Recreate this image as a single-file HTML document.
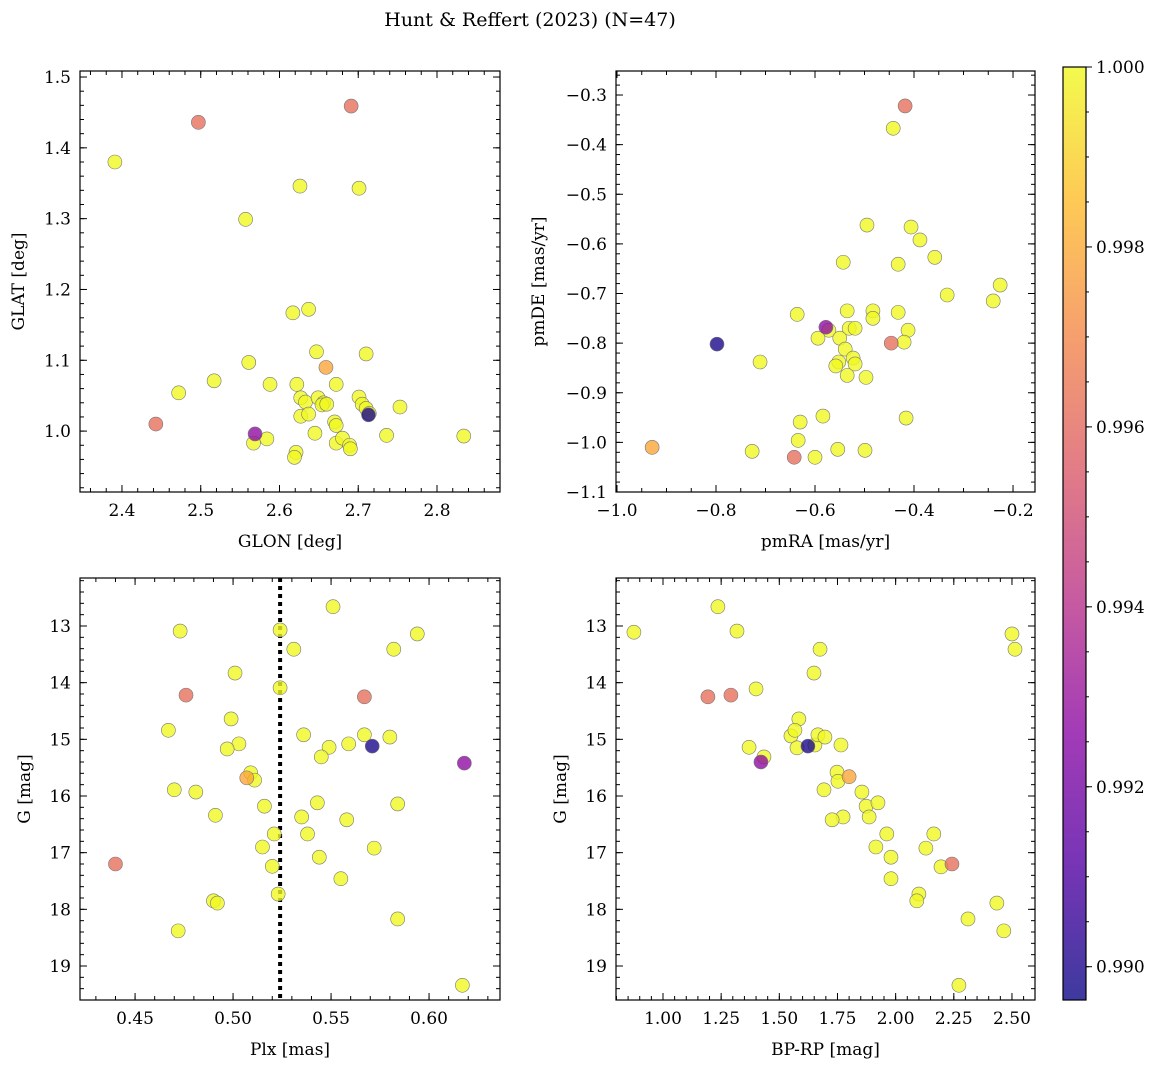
<!DOCTYPE html>
<html><head><meta charset="utf-8">
<style>
body{margin:0;background:#fff;}
svg{display:block;font-family:"DejaVu Serif","Liberation Serif",serif;}
</style></head>
<body>
<svg id="fig" width="1161" height="1067" viewBox="0 0 1161 1067">
<text x="530" y="26" font-size="19" text-anchor="middle">Hunt &amp; Reffert (2023) (N=47)</text>
</svg>
<script>
// ---- data ----
const probLevels = [1.0, 0.9962, 0.9979, 0.9927, 0.9899];
const p1Glon = [2.391,2.497,2.691,2.443,2.472,2.517,2.557,2.626,2.701,2.617,2.637,2.561,2.588,2.622,2.647,2.659,2.710,2.627,2.633,2.649,2.627,2.637,2.656,2.654,2.660,2.672,2.701,2.705,2.710,2.714,2.713,2.753,2.645,2.670,2.672,2.672,2.680,2.689,2.690,2.736,2.834,2.569,2.567,2.584,2.621,2.619];
const p1Glat = [1.380,1.436,1.459,1.010,1.054,1.071,1.299,1.346,1.343,1.167,1.172,1.097,1.066,1.066,1.112,1.090,1.109,1.047,1.041,1.047,1.021,1.024,1.040,1.037,1.038,1.066,1.048,1.038,1.032,1.025,1.023,1.034,0.997,1.013,1.008,0.983,0.990,0.980,0.975,0.994,0.993,0.996,0.983,0.989,0.970,0.963];
const p1Prob = [1,0.9962,0.9962,0.9962,1,1,1,1,1,1,1,1,1,1,1,0.9979,1,1,1,1,1,1,1,1,1,1,1,1,1,1,0.9899,1,1,1,1,1,1,1,1,1,1,0.9927,1,1,1,1];
const p2PmRA = [-0.418,-0.442,-0.495,-0.406,-0.388,-0.358,-0.432,-0.543,-0.333,-0.226,-0.240,-0.636,-0.535,-0.483,-0.483,-0.432,-0.578,-0.572,-0.531,-0.519,-0.412,-0.420,-0.446,-0.798,-0.594,-0.550,-0.539,-0.523,-0.519,-0.552,-0.558,-0.535,-0.497,-0.711,-0.584,-0.416,-0.630,-0.634,-0.929,-0.727,-0.554,-0.499,-0.600,-0.642];
const p2PmDE = [-0.322,-0.367,-0.562,-0.566,-0.592,-0.627,-0.641,-0.637,-0.703,-0.683,-0.715,-0.742,-0.735,-0.735,-0.750,-0.738,-0.768,-0.774,-0.770,-0.770,-0.774,-0.798,-0.800,-0.802,-0.790,-0.790,-0.812,-0.830,-0.842,-0.838,-0.846,-0.865,-0.869,-0.838,-0.947,-0.951,-0.959,-0.996,-1.010,-1.018,-1.014,-1.016,-1.030,-1.030];
const p2Prob = [0.9962,1,1,1,1,1,1,1,1,1,1,1,1,1,1,1,0.9927,1,1,1,1,1,0.9962,0.9899,1,1,1,1,1,1,1,1,1,1,1,1,1,1,0.9979,1,1,1,1,0.9962];
const p3Plx = [0.473,0.551,0.594,0.524,0.531,0.582,0.524,0.501,0.476,0.567,0.467,0.499,0.503,0.497,0.536,0.567,0.580,0.559,0.549,0.571,0.618,0.545,0.509,0.507,0.511,0.470,0.481,0.491,0.516,0.543,0.535,0.584,0.558,0.521,0.538,0.515,0.572,0.544,0.555,0.440,0.520,0.523,0.490,0.492,0.584,0.472,0.617];
const p3G = [13.09,12.66,13.14,13.07,13.41,13.41,14.09,13.83,14.22,14.25,14.84,14.64,15.08,15.17,14.92,14.92,14.96,15.08,15.14,15.12,15.42,15.31,15.59,15.68,15.72,15.89,15.93,16.34,16.18,16.12,16.37,16.14,16.42,16.67,16.67,16.90,16.92,17.08,17.46,17.20,17.24,17.73,17.85,17.89,18.17,18.38,19.34];
const p3Prob = [1,1,1,1,1,1,1,1,0.9962,0.9962,1,1,1,1,1,1,1,1,1,0.9899,0.9927,1,1,0.9979,1,1,1,1,1,1,1,1,1,1,1,1,1,1,1,0.9962,1,1,1,1,1,1,1];
const p4BpRp = [0.875,1.236,1.318,2.500,2.513,1.675,1.193,1.292,1.400,1.649,1.584,1.370,1.434,1.421,1.550,1.567,1.576,1.623,1.653,1.666,1.696,1.765,1.748,1.752,1.800,1.692,1.855,1.873,1.924,1.886,1.774,1.727,1.962,2.164,2.130,1.915,1.980,2.242,2.195,1.980,2.100,2.091,2.311,2.435,2.465,2.272];
const p4G = [13.11,12.66,13.09,13.14,13.41,13.41,14.25,14.22,14.11,13.83,14.64,15.14,15.31,15.40,14.94,14.84,15.15,15.12,15.10,14.92,14.96,15.10,15.58,15.74,15.66,15.89,15.93,16.18,16.12,16.37,16.37,16.42,16.67,16.67,16.92,16.90,17.08,17.20,17.25,17.46,17.73,17.85,18.17,17.89,18.38,19.34];
const p4Prob = [1,1,1,1,1,1,0.9962,0.9962,1,1,1,1,1,0.9927,1,1,1,0.9899,1,1,1,1,1,1,0.9979,1,1,1,1,1,1,1,1,1,1,1,1,0.9962,1,1,1,1,1,1,1,1];
const plxLine = [0.524];
const cbTicks = [0.990,0.992,0.994,0.996,0.998,1.000];

const VMIN=0.98963, VMAX=1.0;
const plasma=[[13,8,135],[84,2,163],[139,10,165],[185,50,137],[219,92,104],[244,136,73],[254,188,43],[240,249,33]];
function cmap(v){let t=Math.max(0,Math.min(1,(v-VMIN)/(VMAX-VMIN)))*(plasma.length-1);let i=Math.min(Math.floor(t),plasma.length-2),f=t-i;
 const c=plasma[i].map((a,k)=>Math.round(a+(plasma[i+1][k]-a)*f));return `rgb(${c})`;}
const NS="http://www.w3.org/2000/svg", svg=document.getElementById('fig');
function mk(tag,attrs,parent){const e=document.createElementNS(NS,tag);for(const k in attrs)e.setAttribute(k,attrs[k]);(parent||svg).appendChild(e);return e;}

function panel(o){
 const g=mk('g',{});
 
 
 const sx=v=>o.x0+(v-o.xmin)/(o.xmax-o.xmin)*(o.x1-o.x0);
 const sy=v=>o.inv? o.y0+(v-o.ymin)/(o.ymax-o.ymin)*(o.y1-o.y0) : o.y1-(v-o.ymin)/(o.ymax-o.ymin)*(o.y1-o.y0);
 if(o.vline){o.vline.forEach(v=>{const l=mk('line',{x1:sx(v),x2:sx(v),y1:o.y0,y2:o.y1,stroke:'#000','stroke-width':4,'stroke-dasharray':'4 4'},g);
  
  });}
 const order=o.xs.map((_,i)=>i).sort((a,b)=>o.ps[b]-o.ps[a]);
 order.forEach(i=>{const c=mk('circle',{cx:sx(o.xs[i]),cy:sy(o.ys[i]),r:7,fill:cmap(o.ps[i]),'fill-opacity':0.8,stroke:'#777','stroke-width':0.6},g);
  
  });
 const r=mk('rect',{x:o.x0,y:o.y0,width:o.x1-o.x0,height:o.y1-o.y0,fill:'none',stroke:'#000','stroke-width':1.2},g);
 
 
 function ticks(min,max,step,len,label,axis,dec){
  const s=Math.ceil(min/step-1e-6);
  for(let k=s;k*step<=max+1e-9;k++){const v=k*step;
   if(axis==='x'){const X=sx(v);
    mk('line',{x1:X,x2:X,y1:o.y1,y2:o.y1-len,stroke:'#000'},g);mk('line',{x1:X,x2:X,y1:o.y0,y2:o.y0+len,stroke:'#000'},g);
    if(label){const t=mk('text',{x:X,y:o.y1+24,'font-size':17,'text-anchor':'middle'},g);t.textContent=v.toFixed(dec).replace('-','\u2212');
     
     }
   }else{const Y=sy(v);
    mk('line',{x1:o.x0,x2:o.x0+len,y1:Y,y2:Y,stroke:'#000'},g);mk('line',{x1:o.x1,x2:o.x1-len,y1:Y,y2:Y,stroke:'#000'},g);
    if(label){const t=mk('text',{x:o.x0-9,y:Y+6,'font-size':17,'text-anchor':'end'},g);t.textContent=v.toFixed(dec).replace('-','\u2212');
     
     }
   }}
 }
 ticks(o.xmin,o.xmax,o.xmaj,7,true,'x',o.xdec);ticks(o.xmin,o.xmax,o.xmin_,4,false,'x');
 const ylo=Math.min(o.ymin,o.ymax),yhi=Math.max(o.ymin,o.ymax);
 ticks(ylo,yhi,o.ymaj,7,true,'y',o.ydec);ticks(ylo,yhi,o.ymin_,4,false,'y');
 const xl=mk('text',{x:(o.x0+o.x1)/2,y:o.y1+55,'font-size':17,'text-anchor':'middle'},g);xl.textContent=o.xlabel;
 
 
 const yl=mk('text',{x:0,y:0,'font-size':17,'text-anchor':'middle',transform:`translate(${o.ylx},${(o.y0+o.y1)/2}) rotate(-90)`},g);yl.textContent=o.ylabel;
 
 
}
panel({name:'glon-glat-panel',x0:80,x1:500,y0:71,y1:492,xmin:2.3467,xmax:2.88,ymin:0.914,ymax:1.5085,xmaj:0.1,xmin_:0.02,ymaj:0.1,ymin_:0.02,xdec:1,ydec:1,xs:p1Glon,ys:p1Glat,ps:p1Prob,xlabel:'GLON [deg]',ylabel:'GLAT [deg]',ylx:24});
panel({name:'proper-motion-panel',x0:616,x1:1035,y0:71,y1:492,xmin:-1.002,xmax:-0.1556,ymin:-1.1,ymax:-0.2516,xmaj:0.2,xmin_:0.05,ymaj:0.1,ymin_:0.02,xdec:1,ydec:1,xs:p2PmRA,ys:p2PmDE,ps:p2Prob,xlabel:'pmRA [mas/yr]',ylabel:'pmDE [mas/yr]',ylx:544});
panel({name:'parallax-mag-panel',x0:80,x1:500,y0:578,y1:1000,xmin:0.4219,xmax:0.6362,ymin:12.153,ymax:19.6,inv:true,xmaj:0.05,xmin_:0.01,ymaj:1,ymin_:0.2,xdec:2,ydec:0,xs:p3Plx,ys:p3G,ps:p3Prob,xlabel:'Plx [mas]',ylabel:'G [mag]',ylx:30,vline:plxLine});
panel({name:'cmd-panel',x0:616,x1:1035,y0:578,y1:1000,xmin:0.798,xmax:2.599,ymin:12.153,ymax:19.6,inv:true,xmaj:0.25,xmin_:0.05,ymaj:1,ymin_:0.2,xdec:2,ydec:0,xs:p4BpRp,ys:p4G,ps:p4Prob,xlabel:'BP-RP [mag]',ylabel:'G [mag]',ylx:566});

// colorbar
const cb=mk('g',{});


const defs=mk('defs',{},cb);const lg=mk('linearGradient',{id:'pl',x1:0,y1:1,x2:0,y2:0},defs);
plasma.forEach((c,i)=>mk('stop',{offset:i/(plasma.length-1),'stop-color':`rgb(${c})`,'stop-opacity':0.8},lg));
const CB={x0:1063,x1:1086,y0:67,y1:1000};
mk('rect',{x:CB.x0,y:CB.y0,width:CB.x1-CB.x0,height:CB.y1-CB.y0,fill:'url(#pl)',stroke:'#000','stroke-width':1.2},cb);
const cy=v=>CB.y1-(v-VMIN)/(VMAX-VMIN)*(CB.y1-CB.y0);
cbTicks.forEach(v=>{const Y=cy(v);mk('line',{x1:CB.x1,x2:CB.x1+6,y1:Y,y2:Y,stroke:'#000'},cb);
 const t=mk('text',{x:CB.x1+10,y:Y+6,'font-size':17},cb);t.textContent=v.toFixed(3);
 
 });
for(let v=0.9900;v<=1.00001;v+=0.0005){mk('line',{x1:CB.x1,x2:CB.x1+3,y1:cy(v),y2:cy(v),stroke:'#000'},cb);}
</script>
</body></html>
